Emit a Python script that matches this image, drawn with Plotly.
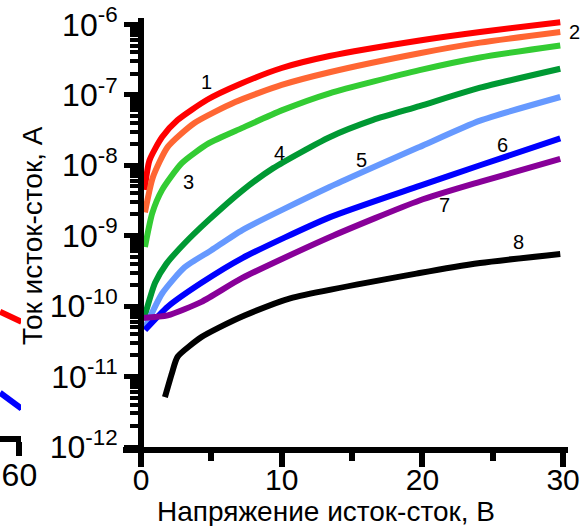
import math
import plotly.graph_objects as go

# ---------------- data ----------------
# source-drain voltage, V  /  source-drain current, A
x1 = [0.25, 0.6, 1.5, 2.6, 4.7, 7.0, 10.0, 13.4, 19.8, 24.1, 29.8]
y1 = [4.47e-9, 1.17e-8, 2.51e-8, 4.37e-8, 8.5e-8, 1.41e-7, 2.4e-7, 3.55e-7, 5.9e-7, 7.8e-7, 1.07e-6]

x2 = [0.28, 0.85, 1.9, 3.8, 6.7, 10.0, 13.4, 19.8, 24.1, 29.8]
y2 = [2.14e-9, 6.8e-9, 1.82e-8, 3.98e-8, 7.9e-8, 1.38e-7, 2.09e-7, 3.89e-7, 5.5e-7, 7.8e-7]

x3 = [0.28, 0.8, 1.5, 2.9, 4.8, 7.2, 10.0, 13.4, 19.8, 24.1, 29.8]
y3 = [6.9e-10, 2.09e-9, 4.47e-9, 1.07e-8, 2.04e-8, 3.39e-8, 6.0e-8, 1.05e-7, 2.24e-7, 3.39e-7, 5.0e-7]

x4 = [0.28, 1.0, 1.8, 3.1, 4.8, 7.2, 9.4, 13.4, 16.5, 19.8, 24.1, 29.8]
y4 = [7.4e-11, 2.14e-10, 3.98e-10, 7.8e-10, 1.66e-9, 4.37e-9, 9.1e-9, 2.5e-8, 4.4e-8, 6.9e-8, 1.26e-7, 2.34e-7]

x5 = [0.28, 1.5, 3.1, 5.0, 7.2, 13.4, 19.8, 24.1, 29.8]
y5 = [4.9e-11, 1.51e-10, 3.55e-10, 6.2e-10, 1.20e-9, 4.9e-9, 1.82e-8, 4.3e-8, 9.3e-8]

x6 = [0.28, 1.9, 4.3, 7.2, 13.4, 19.8, 24.1, 29.8]
y6 = [4.57e-11, 9.8e-11, 2.14e-10, 4.8e-10, 1.82e-9, 5.1e-9, 1.0e-8, 2.4e-8]

x7 = [0.1, 1.9, 4.3, 7.2, 13.4, 19.8, 24.1, 29.8]
y7 = [6.8e-11, 7.4e-11, 1.15e-10, 2.51e-10, 9.5e-10, 3.16e-9, 5.8e-9, 1.23e-8]

x8 = [1.7, 2.2, 2.6, 4.3, 5.5, 7.4, 10.6, 19.8, 24.1, 29.8]
y8 = [5.1e-12, 1.12e-11, 1.91e-11, 3.63e-11, 4.9e-11, 7.4e-11, 1.29e-10, 2.95e-10, 4.1e-10, 5.5e-10]

curve_names = ["1", "2", "3", "4", "5", "6", "7", "8"]
curve_colors = ["#FF0000", "#FF6633", "#33CC33", "#009933", "#6699FF", "#0000FF", "#880099", "#000000"]

# curve-number label positions (x in V, y in A)
label_x = [4.69, 30.3, 3.34, 9.81, 15.7, 25.66, 21.6, 26.8]
label_y = [1.5e-7, 7.9e-7, 5.8e-9, 1.5e-8, 1.2e-8, 1.95e-8, 2.75e-9, 8.1e-10]

# fragments of the neighbouring panel (cut off at the left edge)
nb_x = [48.0, 61.3]
nb_red_y = [8.3e-11, 6.0e-11]
nb_blue_y = [5.9e-12, 3.5e-12]
nb_tick = [60]

x_major = [0, 10, 20, 30]
x_minor = [5, 15, 25]
y_decades = [-12, -11, -10, -9, -8, -7, -6]

# ---------------- figure ----------------
W, H = 587, 526
FONT = "Liberation Sans, Arial, sans-serif"

xs = [x1, x2, x3, x4, x5, x6, x7, x8]
ys = [y1, y2, y3, y4, y5, y6, y7, y8]

fig = go.Figure()
for xv, yv, name, col in zip(xs, ys, curve_names, curve_colors):
    fig.add_trace(go.Scatter(
        x=xv, y=yv, mode="lines", name=name,
        line=dict(color=col, width=6, shape="spline", smoothing=0.6),
        showlegend=False, hoverinfo="skip"))

fig.add_trace(go.Scatter(x=nb_x, y=nb_red_y, mode="lines", xaxis="x2", yaxis="y2",
                         line=dict(color="#FF0000", width=6), showlegend=False, hoverinfo="skip"))
fig.add_trace(go.Scatter(x=nb_x, y=nb_blue_y, mode="lines", xaxis="x2", yaxis="y2",
                         line=dict(color="#0000FF", width=6), showlegend=False, hoverinfo="skip"))

y_tickvals = [10.0 ** d for d in y_decades]
y_ticktext = ["10<sup>%d</sup>" % d for d in y_decades]
y_minor = [k * 10.0 ** d for d in y_decades[:-1] for k in range(2, 10)]

xdom = [123 / W, 568 / W]
ydom = [(H - 447) / H, (H - 18) / H]

fig.update_layout(
    template="none",
    width=W, height=H,
    margin=dict(l=0, r=0, t=0, b=0, autoexpand=False),
    paper_bgcolor="white", plot_bgcolor="white",
    font=dict(family=FONT, color="black"),
    xaxis=dict(
        domain=xdom, range=[-1.28, 30.35], anchor="y", automargin=False,
        showline=True, linewidth=6, linecolor="black",
        showgrid=False, zeroline=False,
        tickvals=x_major, ticks="outside", ticklen=14, tickwidth=6, tickcolor="black",
        ticklabelstandoff=-13,
        tickfont=dict(size=30, family=FONT, color="black"),
        minor=dict(tickvals=x_minor, ticks="outside", ticklen=8, tickwidth=6, tickcolor="black",
                   showgrid=False),
    ),
    yaxis=dict(
        type="log", domain=ydom, range=[-12, -5.91], automargin=False,
        anchor="free", position=141 / W,
        showline=True, linewidth=6, linecolor="black",
        showgrid=False, zeroline=False,
        tickvals=y_tickvals, ticktext=y_ticktext,
        ticks="outside", ticklen=14, tickwidth=5, tickcolor="black",
        tickfont=dict(size=32, family=FONT, color="black"),
        minor=dict(tickvals=y_minor, ticks="outside", ticklen=8, tickwidth=4, tickcolor="black",
                   showgrid=False),
    ),
    xaxis2=dict(
        domain=[0, 21 / W], range=[48, 61], anchor="free", position=(H - 439) / H,
        automargin=False,
        showline=True, linewidth=6, linecolor="black",
        showgrid=False, zeroline=False,
        tickvals=nb_tick, ticks="outside", ticklen=14, tickwidth=6, tickcolor="black",
        ticklabelstandoff=-8,
        tickfont=dict(size=32, family=FONT, color="black"),
    ),
    yaxis2=dict(type="log", domain=ydom, range=[-12, -5.91], anchor="x2", visible=False,
                automargin=False),
)

for name, lx, ly in zip(curve_names, label_x, label_y):
    fig.add_annotation(x=lx, y=math.log10(ly), xref="x", yref="y", text=name,
                       showarrow=False, font=dict(size=20, family=FONT, color="black"),
                       xanchor="left" if name == "2" else "center", yanchor="middle")

fig.add_annotation(x=33 / W, y=(H - 236) / H, xref="paper", yref="paper",
                   text="Ток исток-сток, А", textangle=-90, showarrow=False,
                   xanchor="center", yanchor="middle",
                   font=dict(size=28, family=FONT, color="black"))
fig.add_annotation(x=326 / W, y=(H - 511) / H, xref="paper", yref="paper",
                   text="Напряжение исток-сток, В", showarrow=False,
                   xanchor="center", yanchor="middle",
                   font=dict(size=28, family=FONT, color="black"))

fig.write_html("out.html")
